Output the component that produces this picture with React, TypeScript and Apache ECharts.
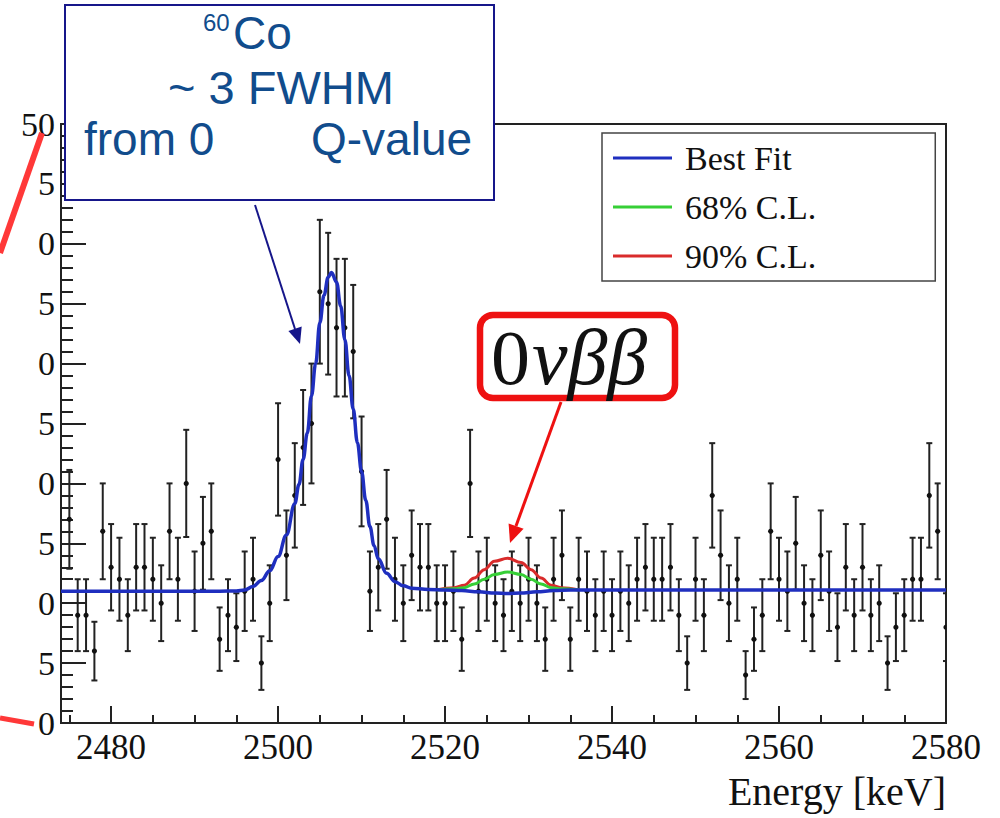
import React, { useEffect, useRef } from 'react';
import * as echarts from 'echarts';

// ---- data ----
// counts per 1 keV bin, bin centres 2475 ... 2580 keV
const FIRST_BIN_KEV = 2475;
const COUNTS = [
  17, 9, 9, 6, 16, 13, 12, 9, 13, 13, // 2475-2484
  12, 10, 16, 12, 20, 11, 15, 16, 7, 9, // 2485-2494
  8, 11, 12, 5, 10, 22, 14, 19, 23, 25, // 2495-2504
  36, 35, 33, 33, 31, 21, 11, 13, 17, 12, // 2505-2514
  10, 14, 13, 13, 10, 10, 11, 7, 20, 11, // 2515-2524
  12, 10, 9, 11, 10, 12, 10, 7, 12, 14, // 2525-2534
  7, 12, 11, 9, 11, 9, 11, 10, 12, 13, // 2535-2544
  12, 12, 13, 9, 5, 12, 9, 19, 14, 10, // 2545-2554
  12, 4, 7, 9, 16, 12, 11, 15, 10, 9, // 2555-2564
  14, 11, 8, 13, 9, 13, 9, 10, 5, 8, // 2565-2574
  9, 12, 12, 19, 16, 8, // 2575-2580
];
const ENERGIES = COUNTS.map((_, i) => FIRST_BIN_KEV + i);

// best-fit curve samples
const FIT_ENERGY = [
  2474, 2490, 2493, 2495, 2496, 2497, 2498, 2499, 2500, 2501, 2502, 2502.5, 2503, 2503.5, 2504,
  2504.5, 2505, 2505.5, 2506, 2506.4, 2507, 2507.5, 2508, 2508.5, 2509, 2509.5, 2510,
  2510.5, 2511, 2511.5, 2512, 2513, 2514, 2515, 2516, 2518, 2520, 2522, 2524, 2526,
  2527.5, 2529, 2531, 2533, 2535, 2550, 2580,
];
const FIT_VALUE = [
  11.0, 11.0, 11.0, 11.02, 11.1, 11.4, 11.9, 12.7, 13.9, 15.7, 18.3, 19.9, 22.0, 24.2, 27.3,
  30.0, 33.4, 35.7, 37.2, 37.6, 36.8, 34.8, 32.0, 29.0, 26.2, 23.4, 21.0,
  18.6, 16.4, 14.8, 13.7, 12.5, 11.8, 11.45, 11.25, 11.15, 11.1, 11.05, 10.95, 10.85,
  10.8, 10.85, 10.95, 11.05, 11.1, 11.1, 11.1,
];
// 68% / 90% C.L. signal curves around the Q-value
const CL_ENERGY = [2519, 2521.1, 2522.3, 2523.5, 2524.7, 2525.9, 2527.5, 2529.1, 2530.3, 2531.5, 2532.7, 2533.9, 2536];
const CL68_VALUE = [11.1, 11.2, 11.3, 11.6, 12.0, 12.4, 12.6, 12.4, 12.0, 11.6, 11.3, 11.2, 11.1];
const CL90_VALUE = [11.1, 11.3, 11.5, 12.1, 12.8, 13.5, 13.75, 13.4, 12.8, 12.1, 11.5, 11.3, 11.1];

const X_MAJOR_TICKS = [2480, 2500, 2520, 2540, 2560, 2580];
const X_MINOR_TICKS = [2475, 2485, 2490, 2495, 2505, 2510, 2515, 2525, 2530, 2535, 2545, 2550, 2555, 2565, 2570, 2575];
const Y_TICK_LABELS = ['0', '5', '0', '5', '0', '5', '0', '5', '0', '5', '50'];
const SERIES_NAMES = ['Best Fit', '68% C.L.', '90% C.L.'];

const SERIF = "'Liberation Serif', 'DejaVu Serif', serif";
const SANS = "'Liberation Sans', Arial, sans-serif";
const NAVY_TEXT = '#114c8c';

function txt(text: string, x: number, y: number, size: number, fill: string, family: string, align = 'left', extra: any = {}) {
  return {
    type: 'text',
    x,
    y,
    z: 110,
    style: {
      text,
      fill,
      fontSize: size,
      fontFamily: family,
      align,
      textAlign: align,
      verticalAlign: 'middle',
      textVerticalAlign: 'middle',
      ...extra,
    },
  };
}

export default function App() {
  const ref = useRef<HTMLDivElement>(null);

  useEffect(() => {
    if (!ref.current) return;
    const chart = echarts.init(ref.current, null, { renderer: 'svg' });

    const points = ENERGIES.map((e, i) => {
      const n = COUNTS[i];
      const err = Math.sqrt(n);
      return [e, n, n - err, n + err];
    });

    const option: any = {
      animation: false,
      backgroundColor: '#ffffff',
      grid: {
        left: 61,
        top: 124,
        right: 54,
        bottom: 95,
        show: true,
        borderColor: '#222',
        borderWidth: 2,
        backgroundColor: 'transparent',
      },
      legend: {
        data: SERIES_NAMES,
        orient: 'vertical',
        left: 602,
        top: 133,
        icon: 'rect',
        itemWidth: 59,
        itemHeight: 3,
        itemGap: 11,
        padding: [6, 119, 6, 11],
        backgroundColor: '#fff',
        borderColor: '#444',
        borderWidth: 1.5,
        selectedMode: false,
        textStyle: { fontFamily: SERIF, fontSize: 34, color: '#111', lineHeight: 38, padding: [0, 0, 0, 8] },
      },
      xAxis: [
        {
          type: 'value',
          min: 2474,
          max: 2580,
          position: 'bottom',
          name: 'Energy [keV]',
          nameLocation: 'end',
          nameGap: 0,
          nameTextStyle: {
            fontFamily: SERIF,
            fontSize: 40,
            color: '#111',
            align: 'right',
            verticalAlign: 'top',
            padding: [48, 0, 0, 0],
          },
          axisLine: { show: true, lineStyle: { color: '#222', width: 2 } },
          axisTick: { show: true, inside: true, length: 17, customValues: X_MAJOR_TICKS, lineStyle: { color: '#222', width: 2 } },
          axisLabel: {
            customValues: X_MAJOR_TICKS,
            fontFamily: SERIF,
            fontSize: 35,
            color: '#111',
            margin: 7,
            formatter: (v: number) => String(v),
          },
          splitLine: { show: false },
        },
        {
          type: 'value',
          min: 2474,
          max: 2580,
          position: 'bottom',
          axisLine: { show: false },
          axisTick: { show: true, inside: true, length: 8, customValues: X_MINOR_TICKS, lineStyle: { color: '#222', width: 2 } },
          axisLabel: { show: false },
          splitLine: { show: false },
        },
      ],
      yAxis: {
        type: 'value',
        min: 0,
        max: 50,
        interval: 5,
        axisLine: { show: true, lineStyle: { color: '#222', width: 2 } },
        axisTick: { show: true, inside: true, length: 25, lineStyle: { color: '#222', width: 2 } },
        minorTick: { show: true, splitNumber: 5, length: 12, lineStyle: { color: '#222', width: 2 } },
        axisLabel: {
          fontFamily: SERIF,
          fontSize: 34,
          color: '#111',
          margin: 6,
          formatter: (v: number) => Y_TICK_LABELS[Math.round(v / 5)] ?? '',
        },
        splitLine: { show: false },
        minorSplitLine: { show: false },
      },
      series: [
        {
          type: 'custom',
          name: 'data',
          xAxisIndex: 0,
          yAxisIndex: 0,
          clip: true,
          encode: { x: 0, y: [1, 2, 3] },
          data: points,
          renderItem: (params: any, api: any) => {
            const x = api.value(0);
            const p = api.coord([x, api.value(1)]);
            const lo = api.coord([x, api.value(2)]);
            const hi = api.coord([x, api.value(3)]);
            const c = 3;
            const stroke = { stroke: '#222', lineWidth: 2 };
            return {
              type: 'group',
              children: [
                { type: 'line', shape: { x1: lo[0], y1: lo[1], x2: hi[0], y2: hi[1] }, style: stroke },
                { type: 'line', shape: { x1: lo[0] - c, y1: lo[1], x2: lo[0] + c, y2: lo[1] }, style: stroke },
                { type: 'line', shape: { x1: hi[0] - c, y1: hi[1], x2: hi[0] + c, y2: hi[1] }, style: stroke },
                { type: 'circle', shape: { cx: p[0], cy: p[1], r: 2.6 }, style: { fill: '#111' } },
              ],
            };
          },
          z: 2,
        },
        {
          type: 'line',
          name: SERIES_NAMES[2],
          data: CL_ENERGY.map((e, i) => [e, CL90_VALUE[i]]),
          smooth: 0.4,
          smoothMonotone: 'x',
          symbol: 'none',
          lineStyle: { color: '#d92b2b', width: 3 },
          itemStyle: { color: '#d92b2b' },
          z: 3,
        },
        {
          type: 'line',
          name: SERIES_NAMES[1],
          data: CL_ENERGY.map((e, i) => [e, CL68_VALUE[i]]),
          smooth: 0.4,
          smoothMonotone: 'x',
          symbol: 'none',
          lineStyle: { color: '#36cf36', width: 3 },
          itemStyle: { color: '#36cf36' },
          z: 3,
        },
        {
          type: 'line',
          name: SERIES_NAMES[0],
          data: FIT_ENERGY.map((e, i) => [e, FIT_VALUE[i]]),
          smooth: 0.4,
          smoothMonotone: 'x',
          symbol: 'none',
          lineStyle: { color: '#1f2fbf', width: 3.5 },
          itemStyle: { color: '#1f2fbf' },
          z: 4,
        },
      ],
      graphic: {
        elements: [
          // 60Co annotation box
          {
            type: 'rect',
            z: 100,
            shape: { x: 65, y: 5, width: 429, height: 195 },
            style: { fill: '#ffffff', stroke: '#16168a', lineWidth: 2 },
          },
          txt('60', 203, 22, 24, NAVY_TEXT, SANS),
          txt('Co', 233, 33, 46, NAVY_TEXT, SANS),
          txt('~ 3 FWHM', 281, 87, 47, NAVY_TEXT, SANS, 'center'),
          txt('from 0', 84, 139, 46, NAVY_TEXT, SANS),
          txt('Q-value', 311, 139, 46, NAVY_TEXT, SANS),
          // navy arrow to the 60Co peak
          {
            type: 'line',
            z: 105,
            shape: { x1: 255, y1: 205, x2: 295, y2: 329 },
            style: { stroke: '#16168a', lineWidth: 2 },
          },
          {
            type: 'polygon',
            z: 105,
            shape: { points: [[300, 344], [301.7, 326.6], [288.4, 331]] },
            style: { fill: '#16168a' },
          },
          // 0nbb box
          {
            type: 'rect',
            z: 100,
            shape: { x: 480, y: 315, width: 195, height: 83, r: 13 },
            style: { fill: '#ffffff', stroke: '#ee1111', lineWidth: 6.5 },
          },
          txt('0', 491, 357, 78, '#111', SERIF),
          txt('νββ', 532, 357, 80, '#111', SERIF, 'left', { fontStyle: 'italic' }),
          // red arrow to the Q-value
          {
            type: 'line',
            z: 105,
            shape: { x1: 561, y1: 402, x2: 516, y2: 526 },
            style: { stroke: '#ee1111', lineWidth: 3 },
          },
          {
            type: 'polygon',
            z: 105,
            shape: { points: [[510, 543], [523.6, 528.8], [508.6, 523.4]] },
            style: { fill: '#ee1111' },
          },
          // red zoom connector lines on the left
          {
            type: 'line',
            z: 106,
            shape: { x1: 0, y1: 253, x2: 42, y2: 133 },
            style: { stroke: '#ff3838', lineWidth: 6 },
          },
          {
            type: 'line',
            z: 106,
            shape: { x1: 0, y1: 718, x2: 34, y2: 724 },
            style: { stroke: '#ff3838', lineWidth: 5 },
          },
        ],
      },
    };

    chart.setOption(option);
    return () => chart.dispose();
  }, []);

  return (
    <div
      ref={ref}
      style={{ position: 'absolute', left: 0, top: 0, width: 1000, height: 818, background: '#fff' }}
    />
  );
}
